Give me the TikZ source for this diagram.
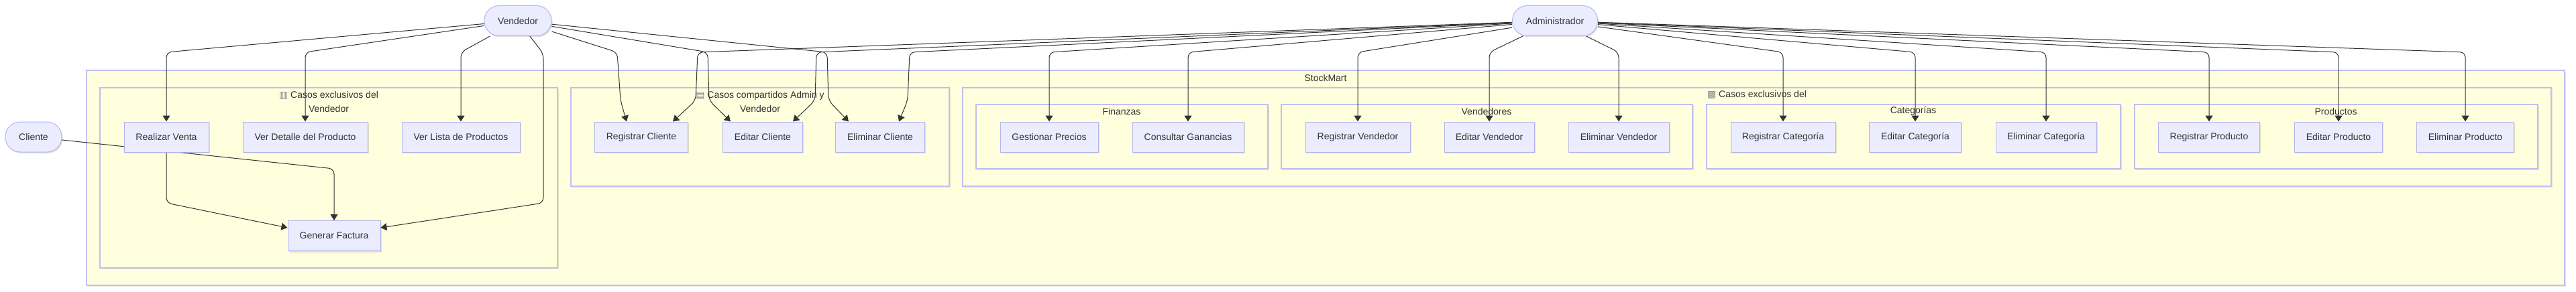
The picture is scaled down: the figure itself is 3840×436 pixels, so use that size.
\documentclass[tikz,border=0pt]{standalone}
\usepackage{fontspec}
\setmainfont{Liberation Sans}
\newfontfamily\symfont{DejaVu Sans}
\usetikzlibrary{arrows.meta,shadows}
\definecolor{nodefill}{HTML}{ECECFF}
\definecolor{nodeline}{HTML}{B4B4F0}
\definecolor{clfill}{HTML}{FFFFDE}
\definecolor{clline}{HTML}{C0C0F2}
\definecolor{txt}{HTML}{333333}
\definecolor{edgec}{HTML}{333333}
\definecolor{symc}{HTML}{8A8A8A}
\pgfdeclarelayer{bglayer}
\pgfdeclarelayer{edgelayer}
\pgfsetlayers{bglayer,edgelayer,main}
\begin{document}
\begin{tikzpicture}[x=1pt,y=-1pt,
  every node/.style={font=\fontsize{14pt}{21pt}\selectfont, text=txt},
  usecase/.style={draw=nodeline, fill=nodefill, line width=1pt, minimum height=45pt, inner sep=0pt,
    drop shadow={shadow xshift=1.5pt, shadow yshift=-2pt, opacity=0.12, fill=black}},
  actor/.style={usecase, rounded corners=22pt},
  cluster/.style={draw=clline, fill=clfill, line width=1.2pt,
    drop shadow={shadow xshift=1.5pt, shadow yshift=-2pt, opacity=0.10, fill=black}},
  cltitle/.style={align=center, inner sep=0pt},
  edge/.style={draw=edgec, line width=1pt, rounded corners=8pt, -{Triangle[length=9pt,width=11pt]}},
  sym/.style={},
]
\useasboundingbox (0,0) rectangle (3840,436);
\coordinate (lvl) at (0,78);
\coordinate (lvlc) at (0,252);

% ---------- clusters ----------
\begin{pgfonlayer}{bglayer}
\draw[cluster] (129,105) rectangle (3823,426);
\node[cltitle] (tSM) at (1976,116) {StockMart};
\draw[cluster] (149,131) rectangle (831,400);
\node[cltitle] (tV) at (490,151.5) {{\symfont\color{symc}▥} Casos exclusivos del\\Vendedor};
\draw[cluster] (851,131) rectangle (1415,278);
\node[cltitle] (tS) at (1133,151.5) {{\symfont\color{symc}▤} Casos compartidos Admin y\\Vendedor};
\draw[cluster] (1435,131) rectangle (3803,278);
\node[cltitle] (tA) at (2619,141) {{\symfont\color{symc}▩} Casos exclusivos del};
\draw[cluster] (1455,156) rectangle (1890,252);
\node[cltitle] (tF) at (1672,166) {Finanzas};
\draw[cluster] (1910,156) rectangle (2523,252);
\node[cltitle] (tVe) at (2216,166) {Vendedores};
\draw[cluster] (2544,156) rectangle (3161,252);
\node[cltitle] (tC) at (2852,166) {Categorías};
\draw[cluster] (3182,156) rectangle (3783,252);
\node[cltitle] (tP) at (3482,166) {Productos};
\end{pgfonlayer}

% ---------- actors ----------
\node[actor, minimum width=100pt] (vend) at (772,31) {Vendedor};
\node[actor, minimum width=127pt] (adm) at (2318,31) {Administrador};
\node[actor, minimum width=84pt] (cli) at (50,204.5) {Cliente};

% ---------- use cases ----------
\node[usecase, minimum width=126pt] (rv) at (248,204.5) {Realizar Venta};
\node[usecase, minimum width=186pt] (vdp) at (455,204.5) {Ver Detalle del Producto};
\node[usecase, minimum width=176pt] (vlp) at (687,204.5) {Ver Lista de Productos};
\node[usecase, minimum width=138pt] (gf) at (498,352) {Generar Factura};

\node[usecase, minimum width=139pt] (rc) at (956,204.5) {Registrar Cliente};
\node[usecase, minimum width=119pt] (ec) at (1137,204.5) {Editar Cliente};
\node[usecase, minimum width=133pt] (elc) at (1312,204.5) {Eliminar Cliente};

\node[usecase, minimum width=146pt] (gp) at (1564,204.5) {Gestionar Precios};
\node[usecase, minimum width=166pt] (cg) at (1771,204.5) {Consultar Ganancias};
\node[usecase, minimum width=156pt] (rvd) at (2024,204.5) {Registrar Vendedor};
\node[usecase, minimum width=134pt] (evd) at (2220,204.5) {Editar Vendedor};
\node[usecase, minimum width=150pt] (elvd) at (2413,204.5) {Eliminar Vendedor};
\node[usecase, minimum width=156pt] (rcat) at (2658,204.5) {Registrar Categoría};
\node[usecase, minimum width=137pt] (ecat) at (2855,204.5) {Editar Categoría};
\node[usecase, minimum width=150pt] (elcat) at (3050,204.5) {Eliminar Categoría};
\node[usecase, minimum width=151pt] (rp) at (3293,204.5) {Registrar Producto};
\node[usecase, minimum width=131pt] (ep) at (3486,204.5) {Editar Producto};
\node[usecase, minimum width=145pt] (elp) at (3675,204.5) {Eliminar Producto};

% ---------- edges ----------
\begin{pgfonlayer}{edgelayer}
\foreach \n in {rv,vdp,vlp}
  \draw[edge] (vend) -- (\n.north |- lvl) -- (\n.north);
\draw[edge] (vend) -- (810,80) -- (810,303) -- ([yshift=12pt]gf.east);
\draw[edge] (vend) -- (920,78) -- (925,150) -- ([xshift=-22pt]rc.north);
\draw[edge] (vend) -- (1055,78) -- (1057,150) -- ([xshift=-48pt]ec.north);
\draw[edge] (vend) -- (1233,78) -- (1235,150) -- ([xshift=-47pt]elc.north);

\draw[edge] (cli) -- (gf.north |- lvlc) -- (gf.north);
\draw[edge] (rv.south) -- (248,303) -- ([yshift=12pt]gf.west);

\draw[edge] (adm) -- (1040,78) -- (1037,150) -- ([xshift=47pt]rc.north);
\draw[edge] (adm) -- (1217,78) -- (1215,150) -- ([xshift=45pt]ec.north);
\draw[edge] (adm) -- (1356,78) -- (1353,150) -- ([xshift=28pt]elc.north);
\foreach \n in {gp,cg,rvd,evd,elvd,rcat,ecat,elcat,rp,ep,elp}
  \draw[edge] (adm) -- (\n.north |- lvl) -- (\n.north);
\end{pgfonlayer}
\end{tikzpicture}
\end{document}
